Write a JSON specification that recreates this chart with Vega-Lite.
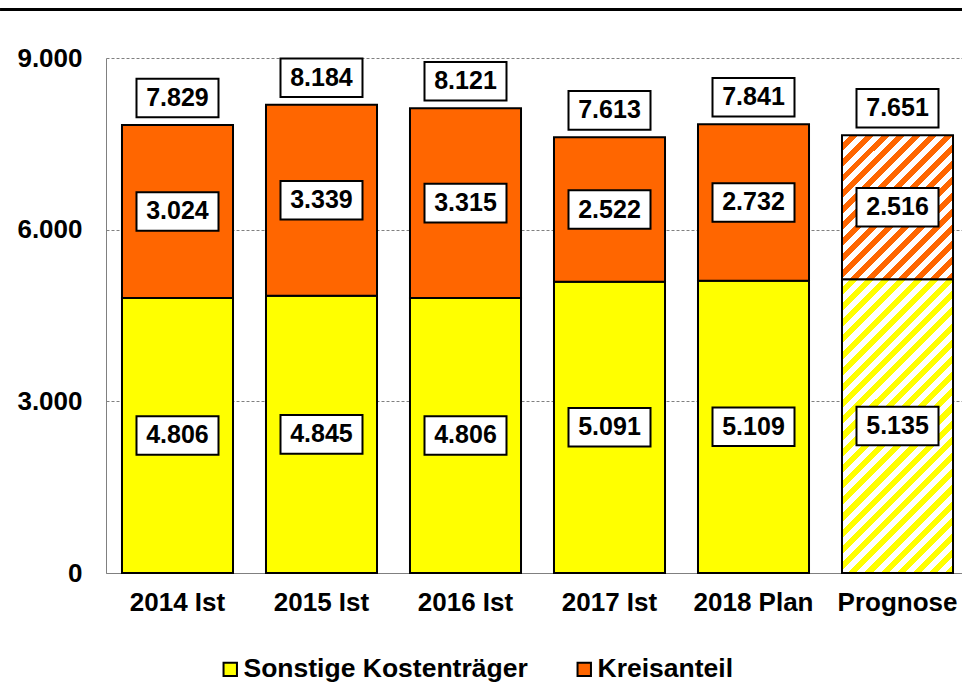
{
  "$schema": "https://vega.github.io/schema/vega-lite/v6.json",
  "width": 856,
  "height": 515,
  "autosize": {"type": "none"},
  "padding": {"left": 106, "top": 58, "right": 0, "bottom": 124},
  "background": "white",
  "config": {
    "font": "Liberation Sans",
    "locale": {"number": {"decimal": ",", "thousands": ".", "grouping": [3], "currency": ["", " €"]}},
    "view": {"stroke": null}
  },
  "datasets": {
    "werte": [
      {"jahr": "2014 Ist", "serie": "Sonstige Kostenträger", "wert": 4806},
      {"jahr": "2015 Ist", "serie": "Sonstige Kostenträger", "wert": 4845},
      {"jahr": "2016 Ist", "serie": "Sonstige Kostenträger", "wert": 4806},
      {"jahr": "2017 Ist", "serie": "Sonstige Kostenträger", "wert": 5091},
      {"jahr": "2018 Plan", "serie": "Sonstige Kostenträger", "wert": 5109},
      {"jahr": "Prognose", "serie": "Sonstige Kostenträger", "wert": 5135},
      {"jahr": "2014 Ist", "serie": "Kreisanteil", "wert": 3024},
      {"jahr": "2015 Ist", "serie": "Kreisanteil", "wert": 3339},
      {"jahr": "2016 Ist", "serie": "Kreisanteil", "wert": 3315},
      {"jahr": "2017 Ist", "serie": "Kreisanteil", "wert": 2522},
      {"jahr": "2018 Plan", "serie": "Kreisanteil", "wert": 2732},
      {"jahr": "Prognose", "serie": "Kreisanteil", "wert": 2516}
    ],
    "summen": [
      {"jahr": "2014 Ist", "gesamt": 7829},
      {"jahr": "2015 Ist", "gesamt": 8184},
      {"jahr": "2016 Ist", "gesamt": 8121},
      {"jahr": "2017 Ist", "gesamt": 7613},
      {"jahr": "2018 Plan", "gesamt": 7841},
      {"jahr": "Prognose", "gesamt": 7651}
    ],
    "linie": [{"a": 0}]
  },
  "layer": [
    {
      "encoding": {
        "x": {
          "field": "jahr",
          "type": "nominal",
          "sort": ["2014 Ist", "2015 Ist", "2016 Ist", "2017 Ist", "2018 Plan", "Prognose"],
          "scale": {"range": [0, 863], "paddingInner": 0.229, "paddingOuter": 0.111},
          "axis": {
            "title": null,
            "ticks": false,
            "labelPadding": 16,
            "labelFontSize": 26,
            "labelFontWeight": "bold",
            "labelColor": "black",
            "labelFont": "Liberation Sans",
            "labelAngle": 0,
            "domainColor": "#808080",
            "domainWidth": 1
          }
        }
      },
      "layer": [
        {
          "data": {"name": "werte"},
          "transform": [
            {"stack": "wert", "groupby": ["jahr"], "sort": [{"field": "serie", "order": "descending"}], "as": ["y0", "y1"]},
            {"filter": "datum.jahr !== 'Prognose'"}
          ],
          "mark": {"type": "bar", "stroke": "black", "strokeWidth": 2},
          "encoding": {
            "y": {
              "field": "y0",
              "type": "quantitative",
              "scale": {"domain": [0, 9000], "nice": false},
              "axis": {
                "title": null,
                "values": [0, 3000, 6000, 9000],
                "format": ",d",
                "ticks": false,
                "labelPadding": 24,
                "labelFontSize": 26,
                "labelFontWeight": "bold",
                "labelColor": "black",
                "labelFont": "Liberation Sans",
                "domainColor": "#808080",
                "grid": true,
                "gridColor": "#808080",
                "gridDash": [3, 2]
              }
            },
            "y2": {"field": "y1"},
            "color": {
              "field": "serie",
              "type": "nominal",
              "scale": {"domain": ["Sonstige Kostenträger", "Kreisanteil"], "range": ["#FFFF00", "#FF6600"]},
              "legend": {
                "title": null,
                "orient": "none",
                "legendX": 111,
                "legendY": 598,
                "direction": "horizontal",
                "symbolType": "square",
                "symbolSize": 180,
                "symbolStrokeColor": "black",
                "symbolStrokeWidth": 2,
                "labelFontSize": 26.5,
                "labelFontWeight": "bold",
                "labelColor": "black",
                "labelFont": "Liberation Sans",
                "labelOffset": 0,
                "columnPadding": 43,
                "labelLimit": 0
              }
            }
          }
        },
        {
          "data": {"name": "werte"},
          "transform": [
            {"stack": "wert", "groupby": ["jahr"], "sort": [{"field": "serie", "order": "descending"}], "as": ["y0", "y1"]},
            {"filter": "datum.jahr === 'Prognose' && datum.serie === 'Sonstige Kostenträger'"}
          ],
          "mark": {
            "type": "bar",
            "stroke": "black",
            "strokeWidth": 2,
            "fill": {
              "gradient": "linear", "x1": 0, "y1": 0, "x2": 0.4555, "y2": 1.2057,
              "stops": [
                {"offset": 0, "color": "#FFFFFF"}, {"offset": 0.02, "color": "#FFFFFF"}, {"offset": 0.02, "color": "#FFFF00"}, {"offset": 0.04, "color": "#FFFF00"},
                {"offset": 0.04, "color": "#FFFFFF"}, {"offset": 0.06, "color": "#FFFFFF"}, {"offset": 0.06, "color": "#FFFF00"}, {"offset": 0.08, "color": "#FFFF00"},
                {"offset": 0.08, "color": "#FFFFFF"}, {"offset": 0.1, "color": "#FFFFFF"}, {"offset": 0.1, "color": "#FFFF00"}, {"offset": 0.12, "color": "#FFFF00"},
                {"offset": 0.12, "color": "#FFFFFF"}, {"offset": 0.14, "color": "#FFFFFF"}, {"offset": 0.14, "color": "#FFFF00"}, {"offset": 0.16, "color": "#FFFF00"},
                {"offset": 0.16, "color": "#FFFFFF"}, {"offset": 0.18, "color": "#FFFFFF"}, {"offset": 0.18, "color": "#FFFF00"}, {"offset": 0.2, "color": "#FFFF00"},
                {"offset": 0.2, "color": "#FFFFFF"}, {"offset": 0.22, "color": "#FFFFFF"}, {"offset": 0.22, "color": "#FFFF00"}, {"offset": 0.24, "color": "#FFFF00"},
                {"offset": 0.24, "color": "#FFFFFF"}, {"offset": 0.26, "color": "#FFFFFF"}, {"offset": 0.26, "color": "#FFFF00"}, {"offset": 0.28, "color": "#FFFF00"},
                {"offset": 0.28, "color": "#FFFFFF"}, {"offset": 0.3, "color": "#FFFFFF"}, {"offset": 0.3, "color": "#FFFF00"}, {"offset": 0.32, "color": "#FFFF00"},
                {"offset": 0.32, "color": "#FFFFFF"}, {"offset": 0.34, "color": "#FFFFFF"}, {"offset": 0.34, "color": "#FFFF00"}, {"offset": 0.36, "color": "#FFFF00"},
                {"offset": 0.36, "color": "#FFFFFF"}, {"offset": 0.38, "color": "#FFFFFF"}, {"offset": 0.38, "color": "#FFFF00"}, {"offset": 0.4, "color": "#FFFF00"},
                {"offset": 0.4, "color": "#FFFFFF"}, {"offset": 0.42, "color": "#FFFFFF"}, {"offset": 0.42, "color": "#FFFF00"}, {"offset": 0.44, "color": "#FFFF00"},
                {"offset": 0.44, "color": "#FFFFFF"}, {"offset": 0.46, "color": "#FFFFFF"}, {"offset": 0.46, "color": "#FFFF00"}, {"offset": 0.48, "color": "#FFFF00"},
                {"offset": 0.48, "color": "#FFFFFF"}, {"offset": 0.5, "color": "#FFFFFF"}, {"offset": 0.5, "color": "#FFFF00"}, {"offset": 0.52, "color": "#FFFF00"},
                {"offset": 0.52, "color": "#FFFFFF"}, {"offset": 0.54, "color": "#FFFFFF"}, {"offset": 0.54, "color": "#FFFF00"}, {"offset": 0.56, "color": "#FFFF00"},
                {"offset": 0.56, "color": "#FFFFFF"}, {"offset": 0.58, "color": "#FFFFFF"}, {"offset": 0.58, "color": "#FFFF00"}, {"offset": 0.6, "color": "#FFFF00"},
                {"offset": 0.6, "color": "#FFFFFF"}, {"offset": 0.62, "color": "#FFFFFF"}, {"offset": 0.62, "color": "#FFFF00"}, {"offset": 0.64, "color": "#FFFF00"},
                {"offset": 0.64, "color": "#FFFFFF"}, {"offset": 0.66, "color": "#FFFFFF"}, {"offset": 0.66, "color": "#FFFF00"}, {"offset": 0.68, "color": "#FFFF00"},
                {"offset": 0.68, "color": "#FFFFFF"}, {"offset": 0.7, "color": "#FFFFFF"}, {"offset": 0.7, "color": "#FFFF00"}, {"offset": 0.72, "color": "#FFFF00"},
                {"offset": 0.72, "color": "#FFFFFF"}, {"offset": 0.74, "color": "#FFFFFF"}, {"offset": 0.74, "color": "#FFFF00"}, {"offset": 0.76, "color": "#FFFF00"},
                {"offset": 0.76, "color": "#FFFFFF"}, {"offset": 0.78, "color": "#FFFFFF"}, {"offset": 0.78, "color": "#FFFF00"}, {"offset": 0.8, "color": "#FFFF00"},
                {"offset": 0.8, "color": "#FFFFFF"}, {"offset": 0.82, "color": "#FFFFFF"}, {"offset": 0.82, "color": "#FFFF00"}, {"offset": 0.84, "color": "#FFFF00"},
                {"offset": 0.84, "color": "#FFFFFF"}, {"offset": 0.86, "color": "#FFFFFF"}, {"offset": 0.86, "color": "#FFFF00"}, {"offset": 0.88, "color": "#FFFF00"},
                {"offset": 0.88, "color": "#FFFFFF"}, {"offset": 0.9, "color": "#FFFFFF"}, {"offset": 0.9, "color": "#FFFF00"}, {"offset": 0.92, "color": "#FFFF00"},
                {"offset": 0.92, "color": "#FFFFFF"}, {"offset": 0.94, "color": "#FFFFFF"}, {"offset": 0.94, "color": "#FFFF00"}, {"offset": 0.96, "color": "#FFFF00"},
                {"offset": 0.96, "color": "#FFFFFF"}, {"offset": 0.98, "color": "#FFFFFF"}, {"offset": 0.98, "color": "#FFFF00"}, {"offset": 1, "color": "#FFFF00"}
              ]
            }
          },
          "encoding": {
            "y": {"field": "y0", "type": "quantitative", "scale": {"domain": [0, 9000], "nice": false}},
            "y2": {"field": "y1"}
          }
        },
        {
          "data": {"name": "werte"},
          "transform": [
            {"stack": "wert", "groupby": ["jahr"], "sort": [{"field": "serie", "order": "descending"}], "as": ["y0", "y1"]},
            {"filter": "datum.jahr === 'Prognose' && datum.serie === 'Kreisanteil'"}
          ],
          "mark": {
            "type": "bar",
            "stroke": "black",
            "strokeWidth": 2,
            "fill": {
              "gradient": "linear", "x1": 0, "y1": 0, "x2": 0.8563, "y2": 1.1108,
              "stops": [
                {"offset": 0, "color": "#FFFFFF"}, {"offset": 0.03125, "color": "#FFFFFF"}, {"offset": 0.03125, "color": "#FF6600"}, {"offset": 0.0625, "color": "#FF6600"},
                {"offset": 0.0625, "color": "#FFFFFF"}, {"offset": 0.09375, "color": "#FFFFFF"}, {"offset": 0.09375, "color": "#FF6600"}, {"offset": 0.125, "color": "#FF6600"},
                {"offset": 0.125, "color": "#FFFFFF"}, {"offset": 0.15625, "color": "#FFFFFF"}, {"offset": 0.15625, "color": "#FF6600"}, {"offset": 0.1875, "color": "#FF6600"},
                {"offset": 0.1875, "color": "#FFFFFF"}, {"offset": 0.21875, "color": "#FFFFFF"}, {"offset": 0.21875, "color": "#FF6600"}, {"offset": 0.25, "color": "#FF6600"},
                {"offset": 0.25, "color": "#FFFFFF"}, {"offset": 0.28125, "color": "#FFFFFF"}, {"offset": 0.28125, "color": "#FF6600"}, {"offset": 0.3125, "color": "#FF6600"},
                {"offset": 0.3125, "color": "#FFFFFF"}, {"offset": 0.34375, "color": "#FFFFFF"}, {"offset": 0.34375, "color": "#FF6600"}, {"offset": 0.375, "color": "#FF6600"},
                {"offset": 0.375, "color": "#FFFFFF"}, {"offset": 0.40625, "color": "#FFFFFF"}, {"offset": 0.40625, "color": "#FF6600"}, {"offset": 0.4375, "color": "#FF6600"},
                {"offset": 0.4375, "color": "#FFFFFF"}, {"offset": 0.46875, "color": "#FFFFFF"}, {"offset": 0.46875, "color": "#FF6600"}, {"offset": 0.5, "color": "#FF6600"},
                {"offset": 0.5, "color": "#FFFFFF"}, {"offset": 0.53125, "color": "#FFFFFF"}, {"offset": 0.53125, "color": "#FF6600"}, {"offset": 0.5625, "color": "#FF6600"},
                {"offset": 0.5625, "color": "#FFFFFF"}, {"offset": 0.59375, "color": "#FFFFFF"}, {"offset": 0.59375, "color": "#FF6600"}, {"offset": 0.625, "color": "#FF6600"},
                {"offset": 0.625, "color": "#FFFFFF"}, {"offset": 0.65625, "color": "#FFFFFF"}, {"offset": 0.65625, "color": "#FF6600"}, {"offset": 0.6875, "color": "#FF6600"},
                {"offset": 0.6875, "color": "#FFFFFF"}, {"offset": 0.71875, "color": "#FFFFFF"}, {"offset": 0.71875, "color": "#FF6600"}, {"offset": 0.75, "color": "#FF6600"},
                {"offset": 0.75, "color": "#FFFFFF"}, {"offset": 0.78125, "color": "#FFFFFF"}, {"offset": 0.78125, "color": "#FF6600"}, {"offset": 0.8125, "color": "#FF6600"},
                {"offset": 0.8125, "color": "#FFFFFF"}, {"offset": 0.84375, "color": "#FFFFFF"}, {"offset": 0.84375, "color": "#FF6600"}, {"offset": 0.875, "color": "#FF6600"},
                {"offset": 0.875, "color": "#FFFFFF"}, {"offset": 0.90625, "color": "#FFFFFF"}, {"offset": 0.90625, "color": "#FF6600"}, {"offset": 0.9375, "color": "#FF6600"},
                {"offset": 0.9375, "color": "#FFFFFF"}, {"offset": 0.96875, "color": "#FFFFFF"}, {"offset": 0.96875, "color": "#FF6600"}, {"offset": 1, "color": "#FF6600"}
              ]
            }
          },
          "encoding": {
            "y": {"field": "y0", "type": "quantitative", "scale": {"domain": [0, 9000], "nice": false}},
            "y2": {"field": "y1"}
          }
        },
        {
          "data": {"name": "werte"},
          "transform": [
            {"stack": "wert", "groupby": ["jahr"], "sort": [{"field": "serie", "order": "descending"}], "as": ["y0", "y1"]},
            {"calculate": "(datum.y0 + datum.y1) / 2", "as": "mitte"}
          ],
          "mark": {"type": "point", "shape": "M-1,-0.47L1,-0.47L1,0.47L-1,0.47Z", "size": 6724, "filled": true, "fill": "white", "stroke": "black", "strokeWidth": 2, "opacity": 1},
          "encoding": {
            "y": {"field": "mitte", "type": "quantitative", "scale": {"domain": [0, 9000], "nice": false}}
          }
        },
        {
          "data": {"name": "werte"},
          "transform": [
            {"stack": "wert", "groupby": ["jahr"], "sort": [{"field": "serie", "order": "descending"}], "as": ["y0", "y1"]},
            {"calculate": "(datum.y0 + datum.y1) / 2", "as": "mitte"}
          ],
          "mark": {"type": "text", "font": "Liberation Sans", "fontSize": 25, "fontWeight": "bold", "color": "black", "baseline": "middle", "align": "center"},
          "encoding": {
            "y": {"field": "mitte", "type": "quantitative", "scale": {"domain": [0, 9000], "nice": false}},
            "text": {"field": "wert", "type": "quantitative", "format": ",d"}
          }
        },
        {
          "data": {"name": "summen"},
          "mark": {"type": "point", "shape": "M-1,-0.47L1,-0.47L1,0.47L-1,0.47Z", "size": 6724, "filled": true, "fill": "white", "stroke": "black", "strokeWidth": 2, "opacity": 1, "yOffset": -27},
          "encoding": {
            "y": {"field": "gesamt", "type": "quantitative", "scale": {"domain": [0, 9000], "nice": false}}
          }
        },
        {
          "data": {"name": "summen"},
          "mark": {"type": "text", "font": "Liberation Sans", "fontSize": 25, "fontWeight": "bold", "color": "black", "baseline": "middle", "align": "center", "yOffset": -27},
          "encoding": {
            "y": {"field": "gesamt", "type": "quantitative", "scale": {"domain": [0, 9000], "nice": false}},
            "text": {"field": "gesamt", "type": "quantitative", "format": ",d"}
          }
        }
      ]
    },
    {
      "data": {"name": "linie"},
      "mark": {"type": "rule", "color": "black", "strokeWidth": 3},
      "encoding": {
        "x": {"datum": -0.1238, "type": "quantitative", "scale": {"domain": [0, 1], "nice": false, "zero": false}, "axis": null},
        "x2": {"datum": 1},
        "y": {"datum": 9848, "type": "quantitative", "scale": {"domain": [0, 9000], "nice": false}}
      }
    }
  ],
  "resolve": {"scale": {"x": "independent"}}
}
